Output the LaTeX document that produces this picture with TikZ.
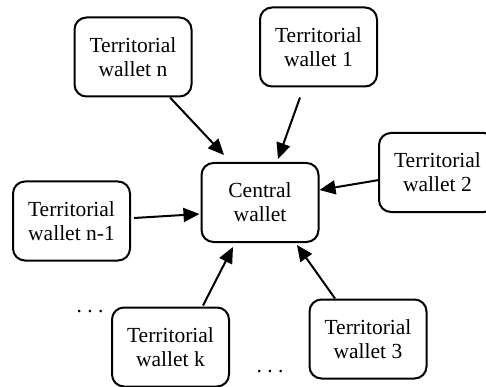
\documentclass[tikz,border=0pt]{standalone}
\usepackage{fontspec}
\setmainfont{Liberation Serif}
\usetikzlibrary{arrows.meta,calc}
\begin{document}
\begin{tikzpicture}[x=1pt,y=-1pt,
  wbox/.style={draw,line width=2pt,rounded corners=12pt,minimum width=117pt,minimum height=79pt,
    align=center,inner sep=0pt,font=\fontsize{21.5}{24}\selectfont},
  dots/.style={font=\fontsize{21.5}{24}\selectfont,anchor=base,inner sep=0pt},
  conn/.style={line width=2pt,-{Triangle[length=16pt,width=14pt]}}]
\useasboundingbox (0,0) rectangle (486,387);
\node[wbox] (c) at (260,202.5) {Central\\wallet};
\node[wbox] (tn) at (133,57) {Territorial\\wallet n};
\node[wbox] (t1) at (318.5,47) {Territorial\\wallet 1};
\node[wbox] (t2) at (437.5,172.5) {Territorial\\wallet 2};
\node[wbox] (tn1) at (71.5,221) {Territorial\\wallet n-1};
\node[wbox] (tk) at (170.5,347) {Territorial\\wallet k};
\node[wbox] (t3) at (368,339) {Territorial\\wallet 3};
\node[dots] (d1) at (90,312) {.\ .\ .};
\node[dots] (d2) at (270,372) {.\ .\ .};
\draw[conn] ($(tn.south)+(37,0)$) -- ($(c.north)+(-36,-7)$);
\draw[conn] ($(t1.south)+(-18.5,10)$) -- ($(c.north)+(18,-3)$);
\draw[conn] ($(t2.west)+(1,7.5)$) -- ($(c.east)+(0,-12.5)$);
\draw[conn] ($(tn1.east)+(3,-3)$) -- ($(c.west)+(-1,11.5)$);
\draw[conn] ($(tk.north)+(32.5,-1)$) -- ($(c.south)+(-27,4)$);
\draw[conn] ($(t3.north)+(-33,0)$) -- ($(c.south)+(37,2)$);
\end{tikzpicture}
\end{document}
